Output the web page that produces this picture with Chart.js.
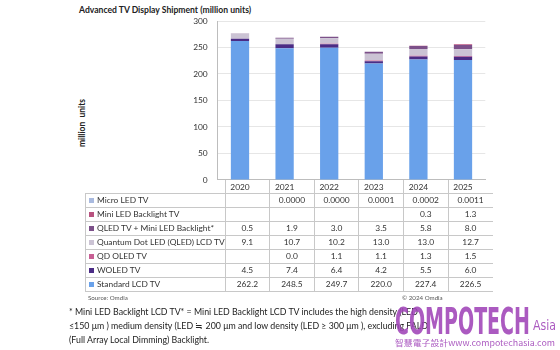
<!DOCTYPE html>
<html><head><meta charset="utf-8">
<script src="https://cdn.jsdelivr.net/npm/chart.js@4.4.1/dist/chart.umd.min.js"></script>
<style>
body{margin:0;width:560px;height:350px;background:#fff;font-family:Lato,"Noto Sans",sans-serif;color:#333;position:relative;overflow:hidden}
#wrap{position:absolute;left:0;top:0;width:560px;height:195px}
#title{position:absolute;left:79px;top:5px;font-weight:bold;font-size:8.6px;color:#222;white-space:nowrap}
#ytitle{position:absolute;left:82px;top:123px;font-weight:bold;font-size:8.5px;color:#222;white-space:nowrap;transform:translate(-50%,-50%) rotate(-90deg)}
#tbl{position:absolute;left:85px;top:180px;border-collapse:collapse;table-layout:fixed;font-size:8.4px;color:#333}
#tbl td{padding:0;height:13px;line-height:13px;text-align:center;white-space:nowrap;overflow:hidden}
#tbl tr.d td{border-top:1px solid #c8c8c8;border-left:1px solid #c8c8c8}
#tbl tr.d:last-child td{border-bottom:1px solid #c8c8c8}
#tbl tr.h td.v{border-left:1px solid #c8c8c8}
#tbl td.lab{text-align:left;padding-left:3px}
.sq{display:inline-block;width:5px;height:5px;margin-right:3px;vertical-align:0px}
#src{position:absolute;left:88px;top:294px;font-size:6.2px;color:#555}
#cpy{position:absolute;left:402px;top:294px;font-size:6.2px;color:#555}
#note{position:absolute;left:69px;top:305px;font-size:8.8px;line-height:14px;color:#222;white-space:nowrap}
#wm{position:absolute;left:395px;top:302px;color:#a044b8;opacity:0.88;white-space:nowrap}
#wm1{font-family:"DejaVu Sans Condensed","DejaVu Sans",sans-serif;font-weight:bold;font-size:38px;line-height:38px;display:inline-block;transform-origin:0 0}
#wm2{position:absolute;left:138px;top:16px;font-family:"DejaVu Sans Condensed","DejaVu Sans",sans-serif;font-size:14px;line-height:14px;display:inline-block;transform-origin:0 0}
#wm3{position:absolute;left:0px;top:36px;font-size:8px;line-height:9px;font-family:"Noto Sans CJK TC","DejaVu Sans Condensed",sans-serif;white-space:nowrap;display:inline-block;transform-origin:0 0}
</style></head>
<body>
<div id="title">Advanced TV Display Shipment (million units)</div>
<div id="ytitle">million&nbsp; units</div>
<div id="wrap"><canvas id="c" width="560" height="195"></canvas></div>
<table id="tbl"></table>
<div id="src">Source: Omdia</div>
<div id="cpy">© 2024 Omdia</div>
<div id="note">* Mini LED Backlight LCD TV* = Mini LED Backlight LCD TV includes the high density (LED<br>≤150 μm ) medium density (LED ≒ 200 μm and low density (LED ≥ 300 μm ), excluding FALD<br>(Full Array Local Dimming) Backlight.</div>
<div id="wm"><span id="wm1">COMPOTECH</span><span id="wm2">Asia</span><span id="wm3">智慧電子設計www.compotechasia.com</span></div>
<script>
const years = ["2020","2021","2022","2023","2024","2025"];
const standardLCD = [262.2, 248.5, 249.7, 220.0, 227.4, 226.5];
const woled = [4.5, 7.4, 6.4, 4.2, 5.5, 6.0];
const qdOled = [null, 0.0, 1.1, 1.1, 1.3, 1.5];
const qled = [9.1, 10.7, 10.2, 13.0, 13.0, 12.7];
const qledMini = [0.5, 1.9, 3.0, 3.5, 5.8, 8.0];
const miniLed = [null, null, null, null, 0.3, 1.3];
const microLed = [null, 0.0000, 0.0000, 0.0001, 0.0002, 0.0011];
const yTicks = [0, 50, 100, 150, 200, 250, 300];

const series = [
  {label:"Micro LED TV", data:microLed, color:"#a9badf", dec:4},
  {label:"Mini LED Backlight TV", data:miniLed, color:"#b8527f", dec:1},
  {label:"QLED TV + Mini LED Backlight*", data:qledMini, color:"#7c5089", dec:1},
  {label:"Quantum Dot LED (QLED) LCD TV", data:qled, color:"#cbc3d4", dec:1},
  {label:"QD OLED TV", data:qdOled, color:"#c85f94", dec:1},
  {label:"WOLED TV", data:woled, color:"#4b2c85", dec:1},
  {label:"Standard LCD TV", data:standardLCD, color:"#69a1ea", dec:1}
];

// table
const colW = (485.3-217.7)/6;
const tbl = document.getElementById('tbl');
let html = '<colgroup><col style="width:132.7px">' + years.map(()=>'<col style="width:'+colW+'px">').join('') + '</colgroup>';
html += '<tr class="h"><td></td>' + years.map(()=>'<td class="v"></td>').join('') + '</tr>';
series.forEach(s=>{
  html += '<tr class="d"><td class="lab"><span class="sq" style="background:'+s.color+'"></span>'+s.label+'</td>';
  s.data.forEach(v=>{ html += '<td>'+(v===null?'':v.toFixed(s.dec))+'</td>'; });
  html += '</tr>';
});
tbl.innerHTML = html;

const ds = series.slice().reverse().map(s=>({
  label:s.label, data:s.data, backgroundColor:s.color, borderWidth:0,
  barPercentage:0.41, categoryPercentage:1.0
}));

new Chart(document.getElementById('c'), {
  type:'bar',
  data:{labels:years, datasets:ds},
  options:{
    responsive:false, animation:false,
    layout:{padding:{left:177.7, right:74.7, top:21, bottom:0}},
    plugins:{legend:{display:false}, tooltip:{enabled:false}, title:{display:false}},
    scales:{
      x:{stacked:true, offset:true,
        grid:{display:false, drawTicks:false},
        border:{color:'#bdbdbd'},
        ticks:{color:'#333', font:{family:'Lato', size:8.4}, padding:2, maxRotation:0},
        afterFit:s=>{s.height=15;}
      },
      y:{stacked:true, min:0, max:300,
        afterBuildTicks:s=>{s.ticks = yTicks.map(v=>({value:v}));},
        grid:{color:'#e6e6e6', drawTicks:false},
        border:{color:'#bdbdbd'},
        ticks:{color:'#333', font:{family:'Lato', size:8.4}, padding:10},
        afterFit:s=>{s.width=40;}
      }
    }
  }
});

function fitW(id, target){
  const el = document.getElementById(id);
  const w = el.getBoundingClientRect().width;
  el.style.transform = 'scaleX(' + (target/w) + ')';
}
fitW('wm1', 135);
fitW('wm2', 23);
fitW('wm3', 160);
</script>
</body></html>
